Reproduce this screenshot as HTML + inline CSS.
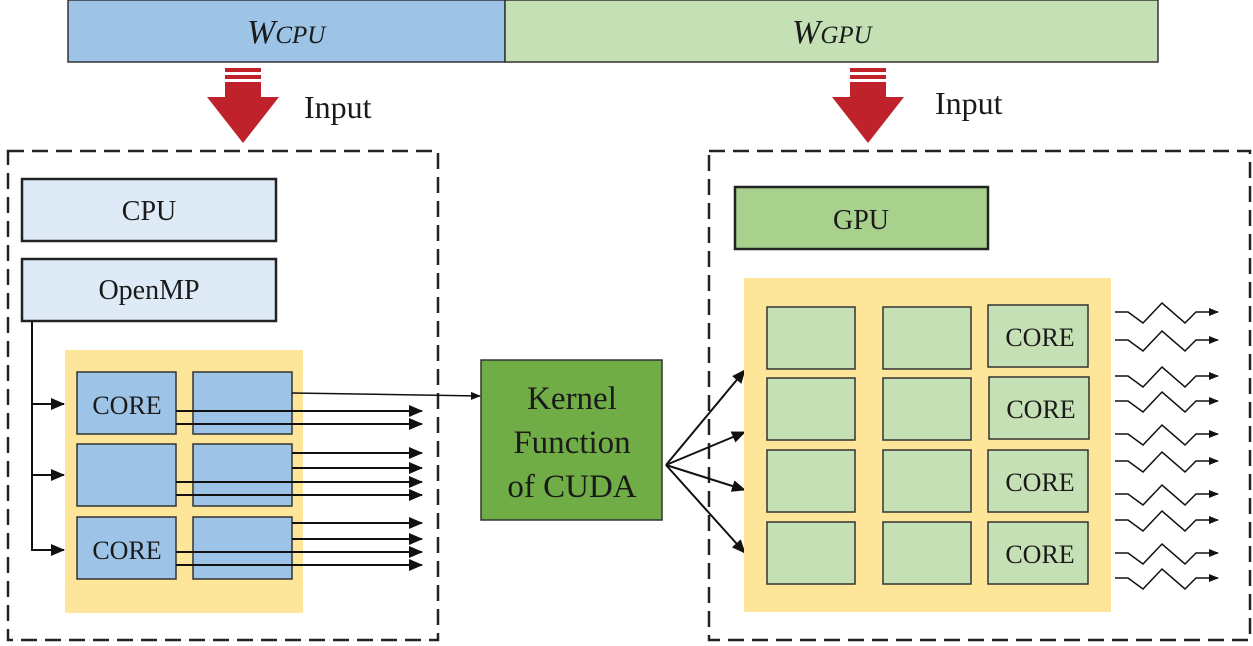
<!DOCTYPE html><html><head><style>body{margin:0;background:#fff}svg{display:block}text{font-family:"Liberation Serif",serif;fill:#1a1a1a}</style></head><body>
<svg width="1253" height="646" viewBox="0 0 1253 646" xmlns="http://www.w3.org/2000/svg">
<defs><marker id="a" markerWidth="10" markerHeight="8" refX="9" refY="4" orient="auto" markerUnits="userSpaceOnUse"><path d="M0,0L10,4L0,8z" fill="#111"/></marker>
<marker id="b" markerWidth="14" markerHeight="12" refX="13" refY="6" orient="auto" markerUnits="userSpaceOnUse"><path d="M0,0L14,6L0,12z" fill="#111"/></marker></defs>
<rect x="68" y="0" width="437" height="62" fill="#9dc3e6" stroke="#333" stroke-width="1.5"/>
<rect x="505" y="0" width="653" height="62" fill="#c5e0b4" stroke="#333" stroke-width="1.5"/>
<text x="247" y="43" font-size="34" font-style="italic">W<tspan font-size="25">CPU</tspan></text>
<text x="792" y="43" font-size="34" font-style="italic">W<tspan font-size="25">GPU</tspan></text>
<g fill="#c0222b"><rect x="225" y="68" width="36" height="4"/><rect x="225" y="75" width="36" height="4"/><path d="M225,82H261V97H279L243,143L207,97H225Z"/>
<rect x="850" y="68" width="36" height="4"/><rect x="850" y="75" width="36" height="4"/><path d="M850,82H886V97H904L868,143L832,97H850Z"/></g>
<text x="304" y="118" font-size="32">Input</text><text x="935" y="114" font-size="32">Input</text>
<g fill="none" stroke="#222" stroke-width="2.5" stroke-dasharray="16,8"><rect x="8" y="151" width="430" height="489"/><rect x="709" y="151" width="541" height="489"/></g>
<g stroke="#222" stroke-width="2.5" fill="#deebf7"><rect x="22" y="179" width="254" height="62"/><rect x="22" y="259" width="254" height="62"/></g>
<text x="149" y="220" font-size="28" text-anchor="middle">CPU</text><text x="149" y="299" font-size="28" text-anchor="middle">OpenMP</text>
<rect x="735" y="187" width="253" height="62" fill="#a9d18e" stroke="#222" stroke-width="2.5"/><text x="861" y="229" font-size="28" text-anchor="middle">GPU</text>
<rect x="65" y="350" width="238" height="263" fill="#fde699"/>
<g fill="#9dc3e6" stroke="#333" stroke-width="1.5"><rect x="77" y="372" width="99" height="62"/><rect x="193" y="372" width="99" height="62"/><rect x="77" y="444" width="99" height="62"/><rect x="193" y="444" width="99" height="62"/><rect x="77" y="517" width="99" height="62"/><rect x="193" y="517" width="99" height="62"/></g>
<text x="127" y="414" font-size="26" text-anchor="middle">CORE</text><text x="127" y="559" font-size="26" text-anchor="middle">CORE</text>
<g stroke="#111" stroke-width="2" fill="none" marker-end="url(#b)"><path d="M32,322V550H64" marker-end="url(#b)"/><path d="M32,404H64"/><path d="M32,475H64"/>
<path d="M176,411H422"/><path d="M176,424H422"/><path d="M292,453H422"/><path d="M292,468H422"/><path d="M176,482H422"/><path d="M176,495H422"/><path d="M292,523H422"/><path d="M292,539H422"/><path d="M176,552H422"/><path d="M176,565H422"/><path d="M292,393L480,396" stroke-width="1.5" marker-end="url(#a)"/></g>
<rect x="481" y="360" width="181" height="160" fill="#70ad47" stroke="#333" stroke-width="1.5"/>
<text x="572" y="409" font-size="33" text-anchor="middle">Kernel</text><text x="572" y="453" font-size="33" text-anchor="middle">Function</text><text x="572" y="497" font-size="33" text-anchor="middle">of CUDA</text>
<g stroke="#111" stroke-width="2" marker-end="url(#b)"><path d="M666,465L745,370"/><path d="M666,465L745,432"/><path d="M666,465L745,490"/><path d="M666,465L745,553"/></g>
<rect x="744" y="278" width="367" height="334" fill="#fde699"/>
<g fill="#c5e0b4" stroke="#333" stroke-width="1.5">
<rect x="767" y="307" width="88" height="62"/><rect x="883" y="307" width="88" height="62"/><rect x="988" y="305" width="100" height="62"/>
<rect x="767" y="378" width="88" height="62"/><rect x="883" y="378" width="88" height="62"/><rect x="989" y="377" width="100" height="62"/>
<rect x="767" y="450" width="88" height="62"/><rect x="883" y="450" width="88" height="62"/><rect x="988" y="450" width="100" height="62"/>
<rect x="767" y="522" width="88" height="62"/><rect x="883" y="522" width="88" height="62"/><rect x="988" y="522" width="100" height="62"/></g>
<g font-size="26" text-anchor="middle"><text x="1040" y="346">CORE</text><text x="1041" y="418">CORE</text><text x="1040" y="491">CORE</text><text x="1040" y="563">CORE</text></g>
<g stroke="#111" stroke-width="1.5" fill="none" marker-end="url(#a)">
<path d="M1115,312h13l15,11l19,-20l23,20l11,-11h22"/><path d="M1115,340h13l15,11l19,-20l23,20l11,-11h22"/>
<path d="M1115,376h13l15,11l19,-20l23,20l11,-11h22"/><path d="M1115,401h13l15,11l19,-20l23,20l11,-11h22"/>
<path d="M1115,434h13l15,11l19,-20l23,20l11,-11h22"/><path d="M1115,461h13l15,11l19,-20l23,20l11,-11h22"/>
<path d="M1115,494h13l15,11l19,-20l23,20l11,-11h22"/><path d="M1115,520h13l15,11l19,-20l23,20l11,-11h22"/>
<path d="M1115,553h13l15,11l19,-20l23,20l11,-11h22"/><path d="M1115,578h13l15,11l19,-20l23,20l11,-11h22"/></g>
</svg></body></html>
